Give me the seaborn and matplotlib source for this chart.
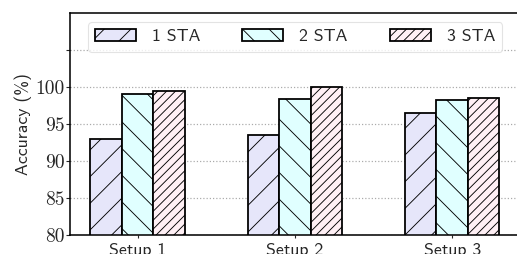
import matplotlib
matplotlib.use("Agg")
import matplotlib.pyplot as plt
import seaborn as sns
import pandas as pd
from matplotlib.patches import Patch

setups = ["Setup 1", "Setup 2", "Setup 3"]
series = ["1 STA", "2 STA", "3 STA"]
sta1 = [93.0, 93.5, 96.5]
sta2 = [99.1, 98.4, 98.2]
sta3 = [99.4, 99.95, 98.5]
yticks = [80, 85, 90, 95, 100, 105]
ytick_labels = ["80", "85", "90", "95", "100", ""]

colors = ["#e6e6fa", "#e0ffff", "#fff0f5"]
hatches = ["/", "\\", "///"]

rows = []
for s, vals in zip(series, [sta1, sta2, sta3]):
    for st, v in zip(setups, vals):
        rows.append({"setup": st, "series": s, "acc": v})
df = pd.DataFrame(rows)

sns.set_style("white")
plt.rcParams["hatch.linewidth"] = 0.8
plt.rcParams["axes.unicode_minus"] = False
SANS = ["cmss10", "DejaVu Sans"]
SERIF = ["cmr10", "DejaVu Serif"]

DPI = 80
fig = plt.figure(figsize=(517 / DPI, 254 / DPI), dpi=DPI)
ax = fig.add_axes([0.1354, 0.0748, 0.87, 0.874])

sns.barplot(data=df, x="setup", y="acc", hue="series", order=setups,
            hue_order=series, palette=colors, width=0.6, ax=ax,
            edgecolor="black", linewidth=1.6, legend=False, saturation=1)

for i, cont in enumerate(ax.containers):
    for p in cont.patches:
        p.set_hatch(hatches[i])
        p.set_edgecolor("black")

ax.set_ylim(80, 110)
ax.set_xlim(-0.43, 2.43)
ax.set_yticks(yticks)
ax.set_yticklabels(ytick_labels, fontsize=17.5, family=SERIF)
ax.set_xticks(range(len(setups)))
ax.set_xticklabels(setups, fontsize=16, family=SANS)
ax.set_xlabel("")
ax.set_ylabel("Accuracy (%)", fontsize=16, family=SANS, labelpad=3)
ax.yaxis.grid(True, linestyle=":", color="#aaaaaa", linewidth=1.1)
ax.set_axisbelow(True)
for side in ["left", "bottom", "top"]:
    ax.spines[side].set_color("black")
    ax.spines[side].set_linewidth(1.4)
ax.spines["right"].set_visible(False)
ax.tick_params(axis="y", which="major", left=True, length=4, width=1, pad=1)
ax.tick_params(axis="x", which="major", bottom=True, length=3, width=1, pad=4)

handles = [Patch(facecolor=c, edgecolor="black", hatch=h, linewidth=1.6)
           for c, h in zip(colors, hatches)]
ax.legend(handles, series,
          ncol=3, loc="upper left", bbox_to_anchor=(88 / 517, 1 - 22 / 254),
          bbox_transform=fig.transFigure, frameon=True,
          prop={"family": SANS, "size": 16},
          handlelength=2.3, handleheight=0.67, columnspacing=2.36,
          handletextpad=0.9, edgecolor="#dddddd", fancybox=True,
          borderpad=0.4, borderaxespad=0)

fig.savefig("out.png", dpi=DPI)
